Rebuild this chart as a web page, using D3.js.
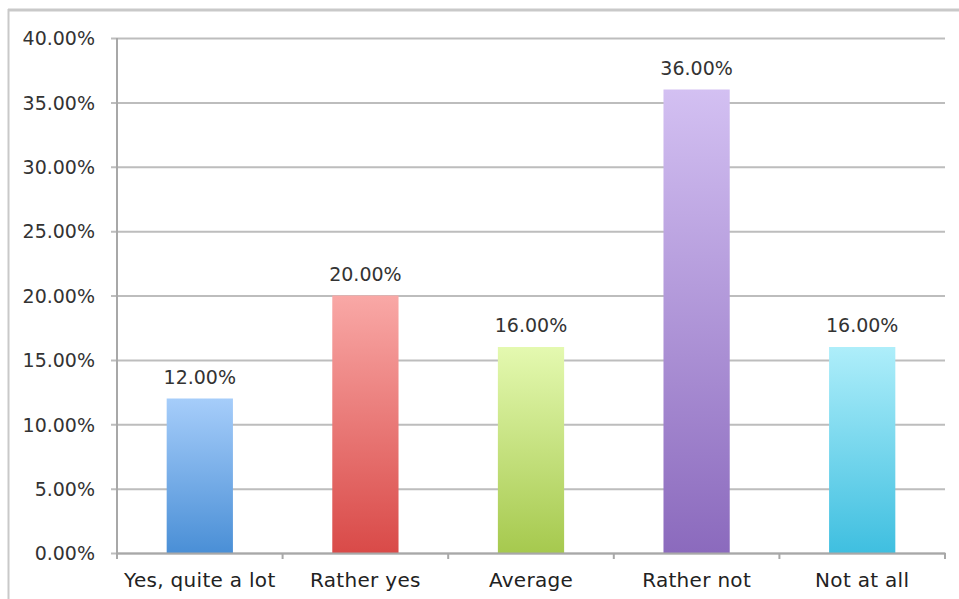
<!DOCTYPE html>
<html><head><meta charset="utf-8">
<script src="https://cdn.jsdelivr.net/npm/d3@7"></script>
<style>body{margin:0;background:#fff}svg{display:block}</style>
</head><body>
<script>
const categories = ["Yes, quite a lot", "Rather yes", "Average", "Rather not", "Not at all"];
const values = [12, 20, 16, 36, 16];
const yTicks = [0, 5, 10, 15, 20, 25, 30, 35, 40];
const topColors = ["#a6cdfa", "#f9a8a6", "#e4f9b0", "#d3c0f2", "#aeeefa"];
const bottomColors = ["#4a8fd6", "#d94a48", "#a6c94e", "#8b6abd", "#3fbfe0"];

const W = 959, H = 599;
const m = {l: 117, r: 14, t: 38, b: 46};
const FONT = "DejaVu Sans, sans-serif";
const svg = d3.select("body").append("svg").attr("width", W).attr("height", H);

// frame
svg.append("line").attr("x1", 8).attr("x2", W).attr("y1", 10).attr("y2", 10).attr("stroke", "#c9c9c9").attr("stroke-width", 3);
svg.append("line").attr("x1", 8.5).attr("x2", 8.5).attr("y1", 9).attr("y2", H).attr("stroke", "#c9c9c9").attr("stroke-width", 2);

const x = d3.scaleBand().domain(categories).range([m.l, W - m.r]).paddingInner(0.6).paddingOuter(0.3);
const y = d3.scaleLinear().domain([0, 40]).range([H - m.b, m.t]);

const defs = svg.append("defs");
categories.forEach((c, i) => {
  const g = defs.append("linearGradient").attr("id", "g" + i).attr("x1", 0).attr("y1", 0).attr("x2", 0).attr("y2", 1);
  g.append("stop").attr("offset", "0%").attr("stop-color", topColors[i]);
  g.append("stop").attr("offset", "100%").attr("stop-color", bottomColors[i]);
});

// gridlines
const yAxis = d3.axisLeft(y).tickValues(yTicks).tickSize(-(W - m.r - m.l)).tickPadding(22)
  .tickFormat(d => d.toFixed(2) + "%");
const ga = svg.append("g").attr("transform", `translate(${m.l},0)`).call(yAxis);
ga.select(".domain").remove();
ga.selectAll(".tick line").attr("stroke", "#bdbdbd").attr("stroke-width", 2).attr("x1", -6);
ga.selectAll(".tick text").attr("fill", "#333").attr("font-family", FONT).attr("font-size", 19).attr("dy", "0.36em");

// bars
svg.append("g").selectAll("rect").data(values).join("rect")
  .attr("x", (d, i) => x(categories[i]))
  .attr("width", x.bandwidth())
  .attr("y", d => y(d))
  .attr("height", d => y(0) - y(d))
  .attr("fill", (d, i) => `url(#g${i})`);

// value labels
svg.append("g").selectAll("text").data(values).join("text")
  .attr("x", (d, i) => x(categories[i]) + x.bandwidth() / 2)
  .attr("y", d => y(d) - 15)
  .attr("text-anchor", "middle")
  .attr("fill", "#333").attr("font-family", FONT).attr("font-size", 19)
  .text(d => d.toFixed(2) + "%");

// y axis line
svg.append("line").attr("x1", m.l).attr("x2", m.l).attr("y1", m.t).attr("y2", y(0) + 6).attr("stroke", "#a8a8a8").attr("stroke-width", 2);

// x axis
const step = (W - m.r - m.l) / categories.length;
const xAxis = d3.axisBottom(x).tickSize(0).tickPadding(20);
const gx = svg.append("g").attr("transform", `translate(0,${y(0)})`).call(xAxis);
gx.select(".domain").attr("stroke", "#a8a8a8").attr("stroke-width", 2);
gx.selectAll(".tick text").attr("fill", "#222").attr("font-family", FONT).attr("font-size", 20).attr("letter-spacing", 0.3);
// category separators
svg.append("g").selectAll("line").data(d3.range(1, categories.length + 1)).join("line")
  .attr("x1", d => m.l + d * step).attr("x2", d => m.l + d * step)
  .attr("y1", y(0)).attr("y2", y(0) + 6).attr("stroke", "#a8a8a8").attr("stroke-width", 2);
</script>
</body></html>
